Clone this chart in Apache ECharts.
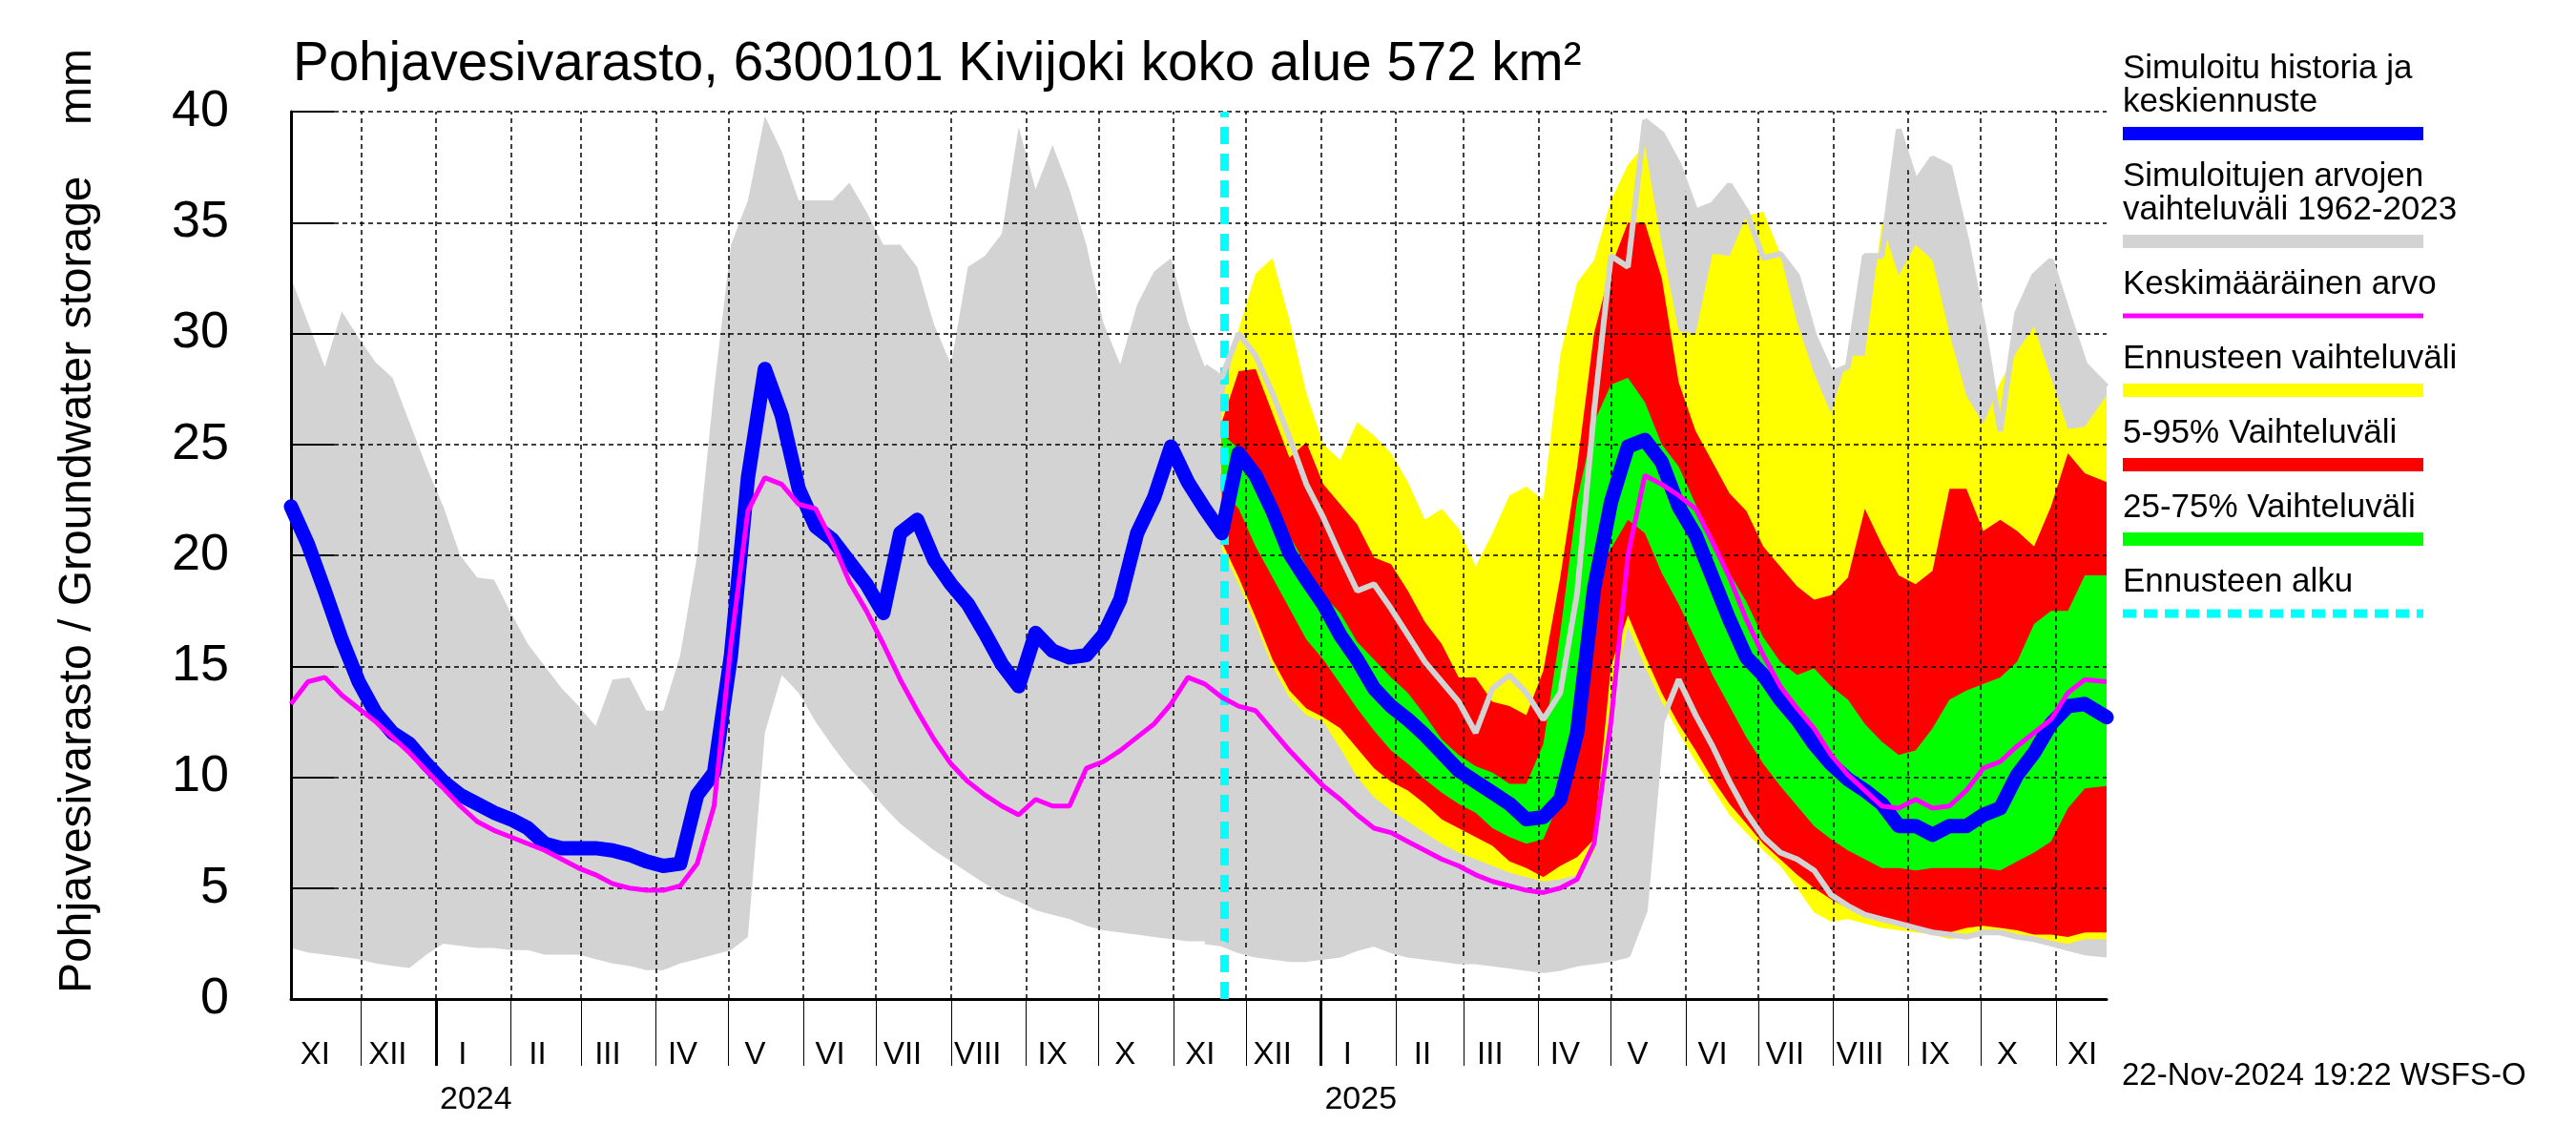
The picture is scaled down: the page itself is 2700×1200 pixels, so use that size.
<!DOCTYPE html>
<html><head><meta charset="utf-8">
<script src="https://cdn.jsdelivr.net/npm/echarts@6/dist/echarts.min.js"></script>
<style>html,body{margin:0;padding:0;background:#fff}#c{width:2700px;height:1200px}</style>
</head><body><div id="c"></div>
<script>
// ---- axis / label data ----
const startDate = '2023-11-02';
const endDate = '2025-11-22';
const forecastStart = '2024-11-22';
const monthStarts = ['2023-12-01','2024-01-01','2024-02-01','2024-03-01','2024-04-01','2024-05-01','2024-06-01','2024-07-01','2024-08-01','2024-09-01','2024-10-01','2024-11-01','2024-12-01','2025-01-01','2025-02-01','2025-03-01','2025-04-01','2025-05-01','2025-06-01','2025-07-01','2025-08-01','2025-09-01','2025-10-01','2025-11-01'];
const monthLabelDates = ['2023-11-12','2023-12-12','2024-01-12','2024-02-12','2024-03-12','2024-04-12','2024-05-12','2024-06-12','2024-07-12','2024-08-12','2024-09-12','2024-10-12','2024-11-12','2024-12-12','2025-01-12','2025-02-12','2025-03-12','2025-04-12','2025-05-12','2025-06-12','2025-07-12','2025-08-12','2025-09-12','2025-10-12','2025-11-12'];
const monthLabels = ['XI','XII','I','II','III','IV','V','VI','VII','VIII','IX','X','XI','XII','I','II','III','IV','V','VI','VII','VIII','IX','X','XI'];
const yearStarts = ['2024-01-01','2025-01-01'];
const yearLabels = ['2024','2025'];

const grayMax = [32.5,30.5,28.5,31.0,29.8,28.7,28.0,26.0,24.0,22.2,
 20.0,19.0,18.9,17.4,16.0,15.0,14.0,13.2,12.3,14.4,
 14.5,13.0,13.0,15.5,20.0,27.5,34.0,36.0,39.8,38.2,
 36.0,36.0,36.0,36.8,35.5,34.0,34.0,33.0,30.4,28.6,
 33.0,33.5,34.5,39.3,36.5,38.5,36.5,34.0,30.5,28.6,
 31.3,32.8,33.4,30.5,28.5,28.0,
 30.0,29.0,27.3,25.3,23.2,21.7,20.0,18.4,18.7,17.6,
 16.4,15.2,14.3,13.4,12.0,14.0,14.6,13.8,12.6,13.8,
 18.3,26.5,33.5,33.0,39.6,39.0,37.6,35.5,35.8,36.7,
 35.5,33.4,33.6,32.6,29.9,28.2,28.5,33.5,33.5,39.2,
 36.8,37.9,37.5,34.2,30.3,25.6,30.9,32.6,33.3,30.9,
 28.6,27.6,28.4];
const grayMin = [2.3,2.1,2.0,1.9,1.8,1.6,1.5,1.4,2.0,2.5,
 2.4,2.3,2.3,2.2,2.2,2.0,2.0,2.0,1.8,1.6,
 1.5,1.3,1.3,1.6,1.8,2.0,2.2,2.8,12.0,14.6,
 13.8,12.5,11.4,10.4,9.6,8.7,7.9,7.3,6.7,6.2,
 5.7,5.2,4.7,4.4,4.0,3.8,3.6,3.3,3.1,3.0,
 2.9,2.8,2.7,2.6,2.6,2.5,
 2.2,2.0,1.9,1.8,1.8,1.9,2.0,2.3,2.5,2.2,
 2.0,1.9,1.8,1.7,1.7,1.6,1.5,1.4,1.3,1.4,
 1.6,1.7,1.8,2.0,4.0,12.5,14.4,12.8,11.4,9.8,
 8.4,7.3,6.6,6.3,5.8,4.7,4.2,3.8,3.6,3.4,
 3.2,3.0,2.9,2.8,3.0,3.0,2.8,2.7,2.5,2.3,
 2.1,2.0,2.0];
const meanVals = [13.3,14.3,14.5,13.7,13.1,12.5,11.8,11.1,10.3,9.5,
 8.7,8.0,7.6,7.3,7.0,6.7,6.3,5.9,5.6,5.2,
 5.0,4.9,4.9,5.1,6.1,8.7,16.0,22.0,23.5,23.2,
 22.3,22.1,20.6,18.8,17.5,16.0,14.4,13.0,11.7,10.6,
 9.8,9.2,8.7,8.3,9.0,8.7,8.7,10.4,10.7,11.2,
 11.8,12.4,13.3,14.5,14.2,13.6,
 13.2,13.0,12.1,11.2,10.4,9.6,9.0,8.3,7.7,7.5,
 7.1,6.7,6.3,6.0,5.6,5.3,5.1,4.9,4.8,5.0,
 5.4,7.0,12.5,20.0,23.6,23.2,22.7,22.1,20.6,19.0,
 17.1,15.5,14.1,13.1,12.2,11.0,10.1,9.4,8.7,8.6,
 9.0,8.6,8.7,9.4,10.4,10.7,11.4,12.0,12.6,13.8,
 14.4,14.3,13.7];
const simVals = [22.2,20.5,18.4,16.2,14.3,12.9,12.0,11.5,10.6,9.8,
 9.2,8.8,8.4,8.1,7.7,7.0,6.8,6.8,6.8,6.7,
 6.5,6.2,6.0,6.1,9.2,10.2,15.5,23.5,28.4,26.3,
 23.0,21.3,20.7,19.7,18.7,17.4,21.0,21.6,19.8,18.7,
 17.8,16.5,15.1,14.1,16.5,15.7,15.4,15.5,16.4,18.0,
 21.0,22.6,24.9,23.3,22.1,21.0,
 24.6,23.6,22.0,20.1,18.9,17.8,16.4,15.3,14.0,13.2,
 12.6,11.9,11.1,10.3,9.8,9.3,8.8,8.1,8.2,9.0,
 12.0,18.5,22.4,24.9,25.2,24.2,22.2,20.9,19.0,17.1,
 15.4,14.6,13.5,12.6,11.5,10.6,9.9,9.4,8.8,7.8,
 7.8,7.4,7.8,7.8,8.3,8.6,10.1,11.1,12.4,13.2,
 13.3,12.7,12.4];
// forecast bands (weekly samples after forecastStart up to endDate)
const yellowHi = [26.8,30.2,32.7,33.4,30.6,27.3,25.0,24.3,26.0,25.4,
 24.6,23.3,21.6,22.1,21.2,19.5,21.0,22.7,23.1,22.5,
 29.0,32.3,33.3,36.0,37.6,38.5,34.0,30.1,30.0,33.6,
 33.5,35.3,35.5,33.6,30.5,28.2,26.4,29.0,29.0,35.0,
 32.6,34.0,33.3,30.0,27.2,25.9,27.8,29.2,30.3,28.0,
 25.7,25.8,27.2];
const yellowLo = [20.3,18.7,16.9,15.0,13.6,12.8,12.5,11.3,10.0,9.1,
 8.5,8.0,7.5,7.0,6.6,6.3,6.0,5.7,5.5,5.3,
 5.4,5.6,6.6,13.5,16.8,15.0,13.4,12.0,10.7,9.5,
 8.3,7.5,6.7,6.0,5.0,3.9,3.5,3.6,3.4,3.2,
 3.1,3.0,2.9,2.7,2.8,3.0,2.9,2.9,2.6,2.6,
 2.5,2.7,2.7];
const redHi = [26.0,28.3,28.4,26.4,24.4,25.1,23.2,22.3,21.4,19.9,
 19.6,18.4,17.0,16.0,14.5,14.5,13.4,13.2,12.8,14.8,
 19.0,24.0,30.0,33.0,35.0,35.0,32.5,27.8,25.6,24.2,
 22.8,22.0,20.4,19.5,18.6,18.0,18.2,19.0,22.1,20.5,
 19.1,18.7,19.3,23.0,23.0,21.1,21.6,21.1,20.4,22.2,
 24.6,23.7,23.3];
const redLo = [20.6,19.0,17.2,15.3,13.9,13.1,12.7,12.2,11.3,10.4,
 9.8,9.4,8.8,8.1,7.7,7.3,6.9,6.2,5.9,5.5,
 6.0,6.4,7.2,15.0,17.3,15.5,13.8,12.4,11.2,9.9,
 8.8,7.9,7.0,6.3,5.6,5.0,4.5,4.1,3.8,3.6,
 3.4,3.3,3.1,3.0,3.2,3.3,3.2,3.1,2.9,2.9,
 2.8,3.0,3.0];
const greenHi = [25.5,24.8,23.7,21.9,20.9,19.5,18.2,17.4,16.1,15.3,
 14.5,13.8,12.8,11.7,11.0,10.5,10.2,9.7,9.7,11.5,
 16.5,22.5,26.0,27.7,28.0,26.9,25.0,24.0,22.3,20.7,
 19.2,17.9,16.3,15.2,14.6,14.9,14.1,13.5,12.4,11.6,
 11.0,11.2,12.2,13.5,13.9,14.2,14.5,15.2,16.9,17.5,
 17.5,19.1,19.1];
const greenLo = [23.0,22.1,20.4,19.0,17.6,16.2,15.3,14.2,13.1,12.1,
 11.2,10.6,9.9,9.3,8.8,8.4,7.7,7.3,7.0,7.2,
 9.0,13.0,19.0,20.3,21.6,21.0,19.2,17.8,16.2,14.6,
 13.2,11.8,10.6,9.6,8.7,7.8,7.2,6.7,6.3,5.9,
 5.9,5.8,5.9,5.9,5.9,5.9,5.8,6.2,6.6,7.1,
 8.6,9.5,9.6];

// ---- texts ----
const titleText = 'Pohjavesivarasto, 6300101 Kivijoki koko alue 572 km²';
const yName = 'Pohjavesivarasto / Groundwater storage    mm';
const stampText = '22-Nov-2024 19:22 WSFS-O';
const legendItems = [
  {lines:['Simuloitu historia ja','keskiennuste'], color:'#0000ff', kind:'bar'},
  {lines:['Simuloitujen arvojen','vaihteluväli 1962-2023'], color:'#d3d3d3', kind:'bar'},
  {lines:['Keskimääräinen arvo'], color:'#ff00ff', kind:'thin'},
  {lines:['Ennusteen vaihteluväli'], color:'#ffff00', kind:'bar'},
  {lines:['5-95% Vaihteluväli'], color:'#ff0000', kind:'bar'},
  {lines:['25-75% Vaihteluväli'], color:'#00ff00', kind:'bar'},
  {lines:['Ennusteen alku'], color:'#00ffff', kind:'dash'}
];

// ---- helpers ----
const FONT = 'Liberation Sans, Arial, sans-serif';
const DAY = 86400000;
const t = s => { const p = s.split('-').map(Number); return Date.UTC(p[0], p[1]-1, p[2]); };
const dayOf = s => Math.round((t(s) - t(startDate)) / DAY);   // x = days since startDate
const lastDay = dayOf(endDate);
const xs = [];
for (let d = 0; d < lastDay - 2; d += 7) xs.push(d);
xs.push(lastDay);
const F0 = xs.length - yellowHi.length;   // first forecast sample
const xsF = xs.slice(F0);
const pair = (x, v) => v.map((y, i) => [x[i], y]);
const labelMap = {}; monthLabelDates.forEach((d,i)=>{ labelMap[dayOf(d)] = monthLabels[i]; });
const yearMap = {}; yearStarts.forEach((d,i)=>{ yearMap[dayOf(d)] = yearLabels[i]; });

function band(id, x, lo, hi, color, z) {
  const data = x.map((xx, i) => [xx, lo[i], hi[i]]);
  return {type:'custom', id:id, z:z, silent:true, data:data, encode:{x:0, y:[1,2]},
    renderItem: function (params, api) {
      if (params.dataIndex !== 0) return null;
      const pts = [];
      for (let i = 0; i < data.length; i++) pts.push(api.coord([data[i][0], data[i][2]]));
      for (let i = data.length - 1; i >= 0; i--) pts.push(api.coord([data[i][0], data[i][1]]));
      return {type:'polygon', shape:{points:pts}, style:{fill:color, stroke:null}};
    }};
}

const series = [
  band('gray', xs, grayMin, grayMax, '#d3d3d3', 1),
  band('yel', xsF, yellowLo, yellowHi, '#ffff00', 1),
  band('red', xsF, redLo, redHi, '#ff0000', 1),
  band('grn', xsF, greenLo, greenHi, '#00ff00', 1),
  {type:'line', id:'monthGrid', data:[[0, null]], symbol:'none', lineStyle:{width:0}, silent:true, z:3,
   markLine:{silent:true, symbol:['none','none'], label:{show:false}, z:3, animation:false,
     lineStyle:{color:'#000', width:1.5, type:[5,4], opacity:1},
     emphasis:{disabled:true},
     data:monthStarts.map(d => ({xAxis:dayOf(d)}))}},
  {type:'line', id:'gmaxL', data:pair(xs, grayMax).slice(F0-1), symbol:'none', lineStyle:{color:'#d3d3d3', width:6}, silent:true, z:4},
  {type:'line', id:'gminL', data:pair(xs, grayMin).slice(F0-1), symbol:'none', lineStyle:{color:'#d3d3d3', width:6}, silent:true, z:4},
  {type:'line', id:'start', data:[[dayOf(forecastStart), null]], symbol:'none', lineStyle:{width:0}, silent:true, z:4,
   markLine:{silent:true, symbol:['none','none'], label:{show:false}, z:4, animation:false,
     lineStyle:{color:'#00ffff', width:9, type:[18,10], opacity:1},
     emphasis:{disabled:true},
     data:[{xAxis:dayOf(forecastStart)}]}},
  {type:'line', id:'sim', data:pair(xs, simVals), symbol:'none', lineStyle:{color:'#0000ff', width:15, join:'round', cap:'round'}, silent:true, z:5},
  {type:'line', id:'mean', data:pair(xs, meanVals), symbol:'none', lineStyle:{color:'#ff00ff', width:5}, silent:true, z:6}
];

// legend graphics
const graphic = [];
let y = 72;
legendItems.forEach(it => {
  it.lines.forEach(l => {
    graphic.push({type:'text', x:2225, y:y, style:{text:l, font:'35px '+FONT, fill:'#000', verticalAlign:'middle', align:'left'}});
    y += 35;
  });
  const ly = y - 2;
  if (it.kind === 'bar') graphic.push({type:'rect', shape:{x:2225, y:ly-7, width:315, height:14}, style:{fill:it.color}});
  else if (it.kind === 'thin') graphic.push({type:'rect', shape:{x:2225, y:ly-2.5, width:315, height:5}, style:{fill:it.color}});
  else graphic.push({type:'line', shape:{x1:2225, y1:ly, x2:2540, y2:ly}, style:{stroke:it.color, lineWidth:9, lineDash:[14,8]}});
  y += 43;
});
graphic.push({type:'text', x:307, y:68, style:{text:titleText, font:'56.5px '+FONT, fill:'#000', verticalAlign:'middle', align:'left'}});
graphic.push({type:'text', x:82, y:546, rotation:Math.PI/2, style:{text:yName, font:'48px '+FONT, fill:'#000', verticalAlign:'middle', align:'center'}});
graphic.push({type:'text', x:2224, y:1128, style:{text:stampText, font:'33px '+FONT, fill:'#000', verticalAlign:'middle', align:'left'}});

const gridBox = {left:305, top:117, width:1903, height:930};
const option = {
  animation:false,
  backgroundColor:'#fff',
  grid:[Object.assign({}, gridBox), Object.assign({}, gridBox)],
  xAxis:[
    {type:'value', gridIndex:0, min:0, max:lastDay, z:3,
     axisLine:{show:true, onZero:false, lineStyle:{color:'#000', width:3}},
     axisTick:{show:true, customValues:monthStarts.map(dayOf), length:70, lineStyle:{color:'#000', width:1}},
     splitLine:{show:false},
     axisLabel:{show:true, customValues:monthLabelDates.map(dayOf), formatter:v=>labelMap[v]||'', hideOverlap:false,
       fontSize:33, fontFamily:FONT, color:'#000', margin:42}},
    {type:'value', gridIndex:1, min:0, max:lastDay, z:3,
     axisLine:{show:false},
     axisTick:{show:true, customValues:yearStarts.map(dayOf), length:70, lineStyle:{color:'#000', width:3}},
     splitLine:{show:false},
     axisLabel:{show:true, customValues:yearStarts.map(dayOf), formatter:v=>yearMap[v]||'', hideOverlap:false, align:'left',
       fontSize:34, fontFamily:FONT, color:'#000', margin:89, padding:[0,0,0,4]}}
  ],
  yAxis:[
    {type:'value', gridIndex:0, min:0, max:40, interval:5, z:3,
     axisLine:{show:true, lineStyle:{color:'#000', width:3}},
     axisTick:{show:true, inside:true, length:45, lineStyle:{color:'#000', width:2}},
     splitLine:{show:true, lineStyle:{color:'#000', width:1.5, type:[5,4]}},
     axisLabel:{fontSize:54, fontFamily:FONT, color:'#000', margin:65}},
    {type:'value', gridIndex:1, min:0, max:40, show:false, splitLine:{show:false}}
  ],
  series: series,
  graphic: graphic
};
const chart = echarts.init(document.getElementById('c'), null, {renderer:'canvas'});
chart.setOption(option);
</script></body></html>
